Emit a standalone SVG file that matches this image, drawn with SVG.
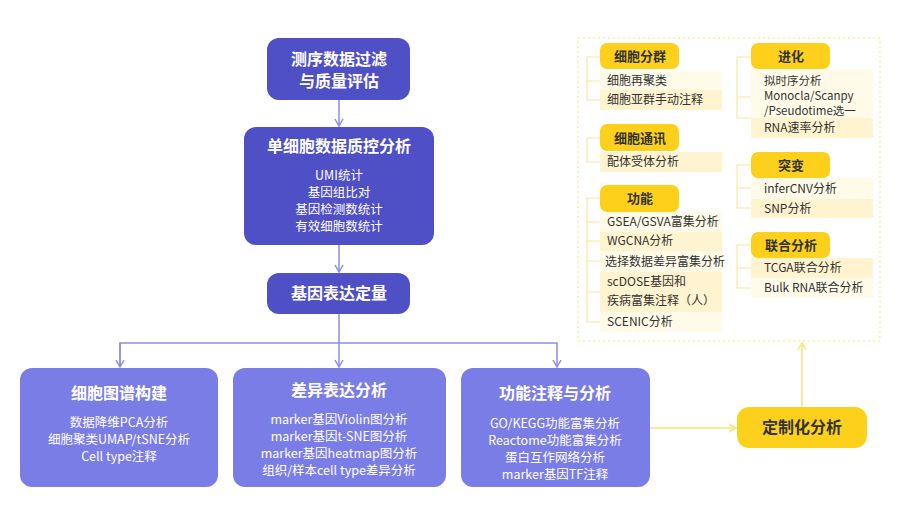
<svg xmlns="http://www.w3.org/2000/svg" width="899" height="505" viewBox="0 0 899 505">
<style>
text{font-family:"Noto Sans CJK SC","Noto Sans",sans-serif}
.dk{fill:#4f4fc6}
.lt{fill:#7b7de6}
.w{fill:#fff;text-anchor:middle}
.wt{font-size:16px;font-weight:bold}
.ws{font-size:12.5px}
.hd{fill:#fdd11b}
.ht{fill:#333;font-size:13px;font-weight:bold;text-anchor:middle}
.it{fill:#333;font-size:12px}
.sm{font-size:11.5px}
.ia{fill:#fffbe8}
.ib{fill:#fff4cf}
.br{stroke:#fbe6a0;stroke-width:1.2;fill:none}
.pc{stroke:#8d8fe0;stroke-width:1.5;fill:none}
.yc{stroke:#fde27a;stroke-width:1.5;fill:none}
</style>
<defs>
<marker id="ap" markerWidth="10" markerHeight="10" refX="8" refY="5" orient="auto" markerUnits="userSpaceOnUse"><path d="M1,1 L8,5 L1,9" fill="none" stroke="#8d8fe0" stroke-width="1.5"/></marker>
<marker id="ay" markerWidth="10" markerHeight="10" refX="8" refY="5" orient="auto" markerUnits="userSpaceOnUse"><path d="M1,1 L8,5 L1,9" fill="none" stroke="#fde27a" stroke-width="1.5"/></marker>
</defs>
<g id="connectors">
<path class="pc" d="M339,100 V126" marker-end="url(#ap)"/>
<path class="pc" d="M339,245 V272" marker-end="url(#ap)"/>
<path class="pc" d="M339,314 V367" marker-end="url(#ap)"/>
<path class="pc" d="M120,367 V343 H557 V367" marker-end="url(#ap)"/>
<path class="pc" d="M120,343 V367" marker-end="url(#ap)"/>
<path class="yc" d="M650,428 H736" marker-end="url(#ay)"/>
<path class="yc" d="M802,407 V343" marker-end="url(#ay)"/>
</g>
<g id="n1"><rect class="dk" x="267" y="38" width="143" height="62" rx="12"/><text class="w wt" x="339" y="65">测序数据过滤</text><text class="w wt" x="339" y="87">与质量评估</text></g>
<g id="n2"><rect class="dk" x="244" y="127" width="190" height="118" rx="12"/><text class="w wt" x="339" y="152">单细胞数据质控分析</text>
<text class="w ws" x="339" y="180">UMI统计</text><text class="w ws" x="339" y="197">基因组比对</text><text class="w ws" x="339" y="214">基因检测数统计</text><text class="w ws" x="339" y="231">有效细胞数统计</text></g>
<g id="n3"><rect class="dk" x="267" y="273" width="143" height="41" rx="12"/><text class="w wt" x="339" y="299">基因表达定量</text></g>
<g id="b1"><rect class="lt" x="20" y="368" width="198" height="119" rx="12"/><text class="w wt" x="119" y="399">细胞图谱构建</text>
<text class="w ws" x="119" y="427">数据降维PCA分析</text><text class="w ws" x="119" y="444">细胞聚类UMAP/tSNE分析</text><text class="w ws" x="119" y="461">Cell type注释</text></g>
<g id="b2"><rect class="lt" x="233" y="368" width="213" height="119" rx="12"/><text class="w wt" x="339" y="396">差异表达分析</text>
<text class="w ws" x="339" y="424">marker基因Violin图分析</text><text class="w ws" x="339" y="441">marker基因t-SNE图分析</text><text class="w ws" x="339" y="458">marker基因heatmap图分析</text><text class="w ws" x="339" y="475">组织/样本cell type差异分析</text></g>
<g id="b3"><rect class="lt" x="461" y="368" width="189" height="119" rx="12"/><text class="w wt" x="555" y="399">功能注释与分析</text>
<text class="w ws" x="555" y="428">GO/KEGG功能富集分析</text><text class="w ws" x="555" y="445">Reactome功能富集分析</text><text class="w ws" x="555" y="462">蛋白互作网络分析</text><text class="w ws" x="555" y="479">marker基因TF注释</text></g>
<g id="custom"><rect x="737" y="407" width="130" height="41" rx="12" fill="#fdd11b"/><text x="802" y="433" font-size="16" font-weight="bold" fill="#333" text-anchor="middle">定制化分析</text></g>
<g id="panel">
<rect x="578" y="38" width="302" height="303" fill="none" stroke="#fde27a" stroke-width="1" stroke-dasharray="2,3"/>
<g id="g1">
<path class="br" d="M600,57 H587 V100 H600 M587,81 H600"/>
<rect class="ia" x="600" y="71" width="122" height="19"/><rect class="ib" x="600" y="90" width="122" height="20"/>
<rect class="hd" x="600" y="43" width="79" height="26" rx="7"/><text class="ht" x="640" y="61">细胞分群</text>
<text class="it" x="607" y="85">细胞再聚类</text><text class="it" x="607" y="104">细胞亚群手动注释</text></g>
<g id="g2">
<path class="br" d="M600,138 H587 V162 H600"/>
<rect class="ib" x="600" y="152" width="122" height="20"/>
<rect class="hd" x="600" y="124" width="79" height="27" rx="7"/><text class="ht" x="640" y="143">细胞通讯</text>
<text class="it" x="607" y="166">配体受体分析</text></g>
<g id="g3">
<path class="br" d="M600,198 H587 V322 H600 M587,222 H600 M587,241 H600 M587,261 H600 M587,292 H600"/>
<rect class="ia" x="600" y="212" width="122" height="20"/><rect class="ib" x="600" y="232" width="122" height="19"/><rect class="ia" x="600" y="251" width="122" height="21"/><rect class="ib" x="600" y="272" width="122" height="40"/><rect class="ia" x="600" y="312" width="122" height="20"/>
<rect class="hd" x="600" y="185" width="79" height="27" rx="7"/><text class="ht" x="640" y="203">功能</text>
<text class="it" x="607" y="226">GSEA/GSVA富集分析</text><text class="it" x="607" y="245">WGCNA分析</text><text class="it" x="605" y="266">选择数据差异富集分析</text><text class="it" x="607" y="286">scDOSE基因和</text><text class="it" x="607" y="305">疾病富集注释（人）</text><text class="it" x="607" y="326">SCENIC分析</text></g>
<g id="g4">
<path class="br" d="M751,57 H737 V118 H751 M737,97 H751"/>
<rect class="ia" x="751" y="69" width="122" height="49"/><rect class="ib" x="751" y="118" width="122" height="20"/>
<rect class="hd" x="751" y="43" width="79" height="26" rx="7"/><text class="ht" x="791" y="61">进化</text>
<text class="it sm" x="764" y="85">拟时序分析</text><text class="it sm" x="764" y="100">Monocla/Scanpy</text><text class="it sm" x="764" y="115">/Pseudotime选一</text><text class="it" x="764" y="132">RNA速率分析</text></g>
<g id="g5">
<path class="br" d="M751,165 H737 V208 H751 M737,188 H751"/>
<rect class="ia" x="751" y="178" width="122" height="21"/><rect class="ib" x="751" y="199" width="122" height="19"/>
<rect class="hd" x="751" y="152" width="79" height="26" rx="7"/><text class="ht" x="791" y="170">突变</text>
<text class="it" x="764" y="193">inferCNV分析</text><text class="it" x="764" y="213">SNP分析</text></g>
<g id="g6">
<path class="br" d="M751,245 H737 V288 H751 M737,268 H751"/>
<rect class="ib" x="751" y="258" width="122" height="20"/><rect class="ia" x="751" y="278" width="122" height="20"/>
<rect class="hd" x="751" y="232" width="79" height="26" rx="7"/><text class="ht" x="791" y="250">联合分析</text>
<text class="it" x="764" y="272">TCGA联合分析</text><text class="it" x="764" y="292">Bulk RNA联合分析</text></g>
</g>
</svg>
